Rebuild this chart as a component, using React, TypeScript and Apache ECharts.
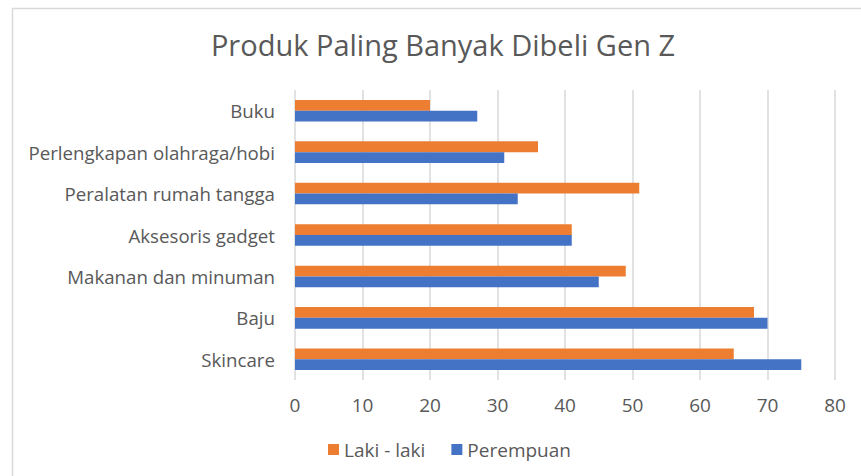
import React, { useEffect, useRef } from "react";
import * as echarts from "echarts";

const categories = [
  "Skincare",
  "Baju",
  "Makanan dan minuman",
  "Aksesoris gadget",
  "Peralatan rumah tangga",
  "Perlengkapan olahraga/hobi",
  "Buku",
];
const lakiLaki = [65, 68, 49, 41, 51, 36, 20];
const perempuan = [75, 70, 45, 41, 33, 31, 27];
const seriesNames = ["Laki - laki", "Perempuan"];
const xTicks = { min: 0, max: 80, interval: 10 };

export default function App() {
  const ref = useRef<HTMLDivElement>(null);
  useEffect(() => {
    document.body.style.margin = "0";
    if (!ref.current) return;
    const chart = echarts.init(ref.current, null, { renderer: "svg" });
    const font = "'Open Sans', 'Noto Sans', sans-serif";
    chart.setOption({
      animation: false,
      backgroundColor: "#ffffff",
      title: {
        text: "Produk Paling Banyak Dibeli Gen Z",
        left: 438,
        textAlign: "center",
        top: 25,
        textStyle: { fontFamily: font, fontSize: 29, fontWeight: "normal", color: "#595959" },
      },
      graphic: [
        {
          type: "rect",
          shape: { x: 12.5, y: 8.5, width: 900, height: 500 },
          style: { fill: "none", stroke: "#d9d9d9", lineWidth: 1.5 },
          silent: true,
        },
      ],
      legend: {
        data: seriesNames,
        bottom: 17,
        left: 328,
        padding: 0,
        itemWidth: 11,
        itemHeight: 11,
        itemGap: 26,
        icon: "rect",
        textStyle: { fontFamily: font, fontSize: 19, color: "#595959" },
      },
      grid: { left: 295, right: 26, top: 90, bottom: 96, containLabel: false },
      xAxis: {
        type: "value",
        min: xTicks.min,
        max: xTicks.max,
        interval: xTicks.interval,
        axisLine: { show: false },
        axisTick: { show: false },
        axisLabel: { fontFamily: font, fontSize: 19, color: "#595959", margin: 15 },
        splitLine: { lineStyle: { color: "#d9d9d9", width: 1.5 } },
      },
      yAxis: {
        type: "category",
        data: categories,
        axisLine: { show: false },
        axisTick: { show: false },
        axisLabel: { fontFamily: font, fontSize: 18.7, color: "#595959", margin: 20 },
      },
      series: [
        {
          name: "Laki - laki",
          type: "bar",
          data: lakiLaki,
          itemStyle: { color: "#ed7d31" },
          barGap: "0%",
          barCategoryGap: "48%",
        },
        {
          name: "Perempuan",
          type: "bar",
          data: perempuan,
          itemStyle: { color: "#4472c4" },
          barGap: "0%",
          barCategoryGap: "48%",
        },
      ],
    });
    return () => chart.dispose();
  }, []);
  return <div ref={ref} style={{ width: 861, height: 476 }} />;
}
